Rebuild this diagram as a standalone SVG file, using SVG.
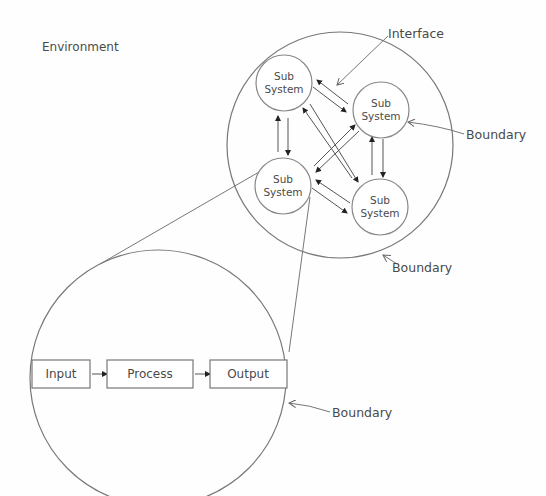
<svg xmlns="http://www.w3.org/2000/svg" width="546" height="496" viewBox="0 0 546 496">
<defs>
<marker id="ah" markerWidth="6" markerHeight="6" refX="5" refY="3" orient="auto" markerUnits="userSpaceOnUse">
<path d="M0,0 L6,3 L0,6 z" fill="#222"/>
</marker>
<marker id="oa" markerWidth="8" markerHeight="8" refX="7" refY="4" orient="auto" markerUnits="userSpaceOnUse">
<path d="M0,0 L7,4 L0,8" fill="none" stroke="#666" stroke-width="1"/>
</marker>
<style>
.c{fill:none;stroke:#777;stroke-width:1.2}
.sc{fill:#fff;stroke:#888;stroke-width:1.2}
.l{stroke:#777;stroke-width:1;fill:none}
.a{stroke:#555;stroke-width:1;fill:none;marker-end:url(#ah)}
.t{font-family:"DejaVu Sans",sans-serif;fill:#4a4a4a}
.s{font-size:10.5px;text-anchor:middle}
.b{fill:#fff;stroke:#777;stroke-width:1.2}
</style>
</defs>
<rect width="546" height="496" fill="#fdfefd"/>
<text class="t" x="42" y="51" font-size="12">Environment</text>
<g id="system-boundary"><circle class="c" cx="340" cy="145" r="113"/></g>
<g id="zoom-boundary"><circle class="c" cx="158" cy="378" r="128"/></g>
<g id="connectors">
<line class="l" x1="259" y1="172" x2="100" y2="264"/>
<line class="l" x1="310" y1="197" x2="289" y2="352"/>
<line class="a" x1="348" y1="104" x2="317" y2="80"/>
<line class="a" x1="313" y1="87" x2="346" y2="112"/>
<line class="a" x1="278" y1="152" x2="278" y2="116"/>
<line class="a" x1="288" y1="118" x2="288" y2="155"/>
<line class="a" x1="372" y1="175" x2="372" y2="137"/>
<line class="a" x1="383" y1="139" x2="383" y2="177"/>
<line class="a" x1="350" y1="203" x2="316" y2="180"/>
<line class="a" x1="312" y1="188" x2="347" y2="213"/>
<line class="a" x1="352" y1="178" x2="303" y2="108"/>
<line class="a" x1="310" y1="104" x2="358" y2="182"/>
<line class="a" x1="314" y1="166" x2="355" y2="125"/>
<line class="a" x1="359" y1="131" x2="316" y2="172"/>
<line class="a" x1="92" y1="374" x2="107" y2="374"/>
<line class="a" x1="195" y1="374" x2="210" y2="374"/>
<path class="l" d="M388,36 L337,85" marker-end="url(#oa)"/>
<path class="l" d="M464,134 Q440,126 408,122" marker-end="url(#oa)"/>
<path class="l" d="M397,264 L383,255" marker-end="url(#oa)"/>
<path class="l" d="M330,412 Q310,405 289,403" marker-end="url(#oa)"/>
</g>
<g id="sub-tl"><circle class="sc" cx="284" cy="83" r="28"/><text class="t s" x="284" y="80">Sub</text><text class="t s" x="284" y="93">System</text></g>
<g id="sub-tr"><circle class="sc" cx="381" cy="110" r="28"/><text class="t s" x="381" y="107">Sub</text><text class="t s" x="381" y="120">System</text></g>
<g id="sub-bl"><circle class="sc" cx="283" cy="186" r="28"/><text class="t s" x="283" y="183">Sub</text><text class="t s" x="283" y="196">System</text></g>
<g id="sub-br"><circle class="sc" cx="380" cy="207" r="28"/><text class="t s" x="380" y="204">Sub</text><text class="t s" x="380" y="217">System</text></g>
<g id="input"><rect class="b" x="32" y="360" width="58" height="28"/><text class="t" x="61" y="378" font-size="12" text-anchor="middle">Input</text></g>
<g id="process"><rect class="b" x="107" y="360" width="86" height="28"/><text class="t" x="150" y="378" font-size="12" text-anchor="middle">Process</text></g>
<g id="output"><rect class="b" x="210" y="360" width="77" height="28"/><text class="t" x="248" y="378" font-size="12" text-anchor="middle">Output</text></g>
<text class="t" x="388" y="38" font-size="12.5">Interface</text>
<text class="t" x="466" y="139" font-size="12.5">Boundary</text>
<text class="t" x="392" y="272" font-size="12.5">Boundary</text>
<text class="t" x="332" y="417" font-size="12.5">Boundary</text>
</svg>
